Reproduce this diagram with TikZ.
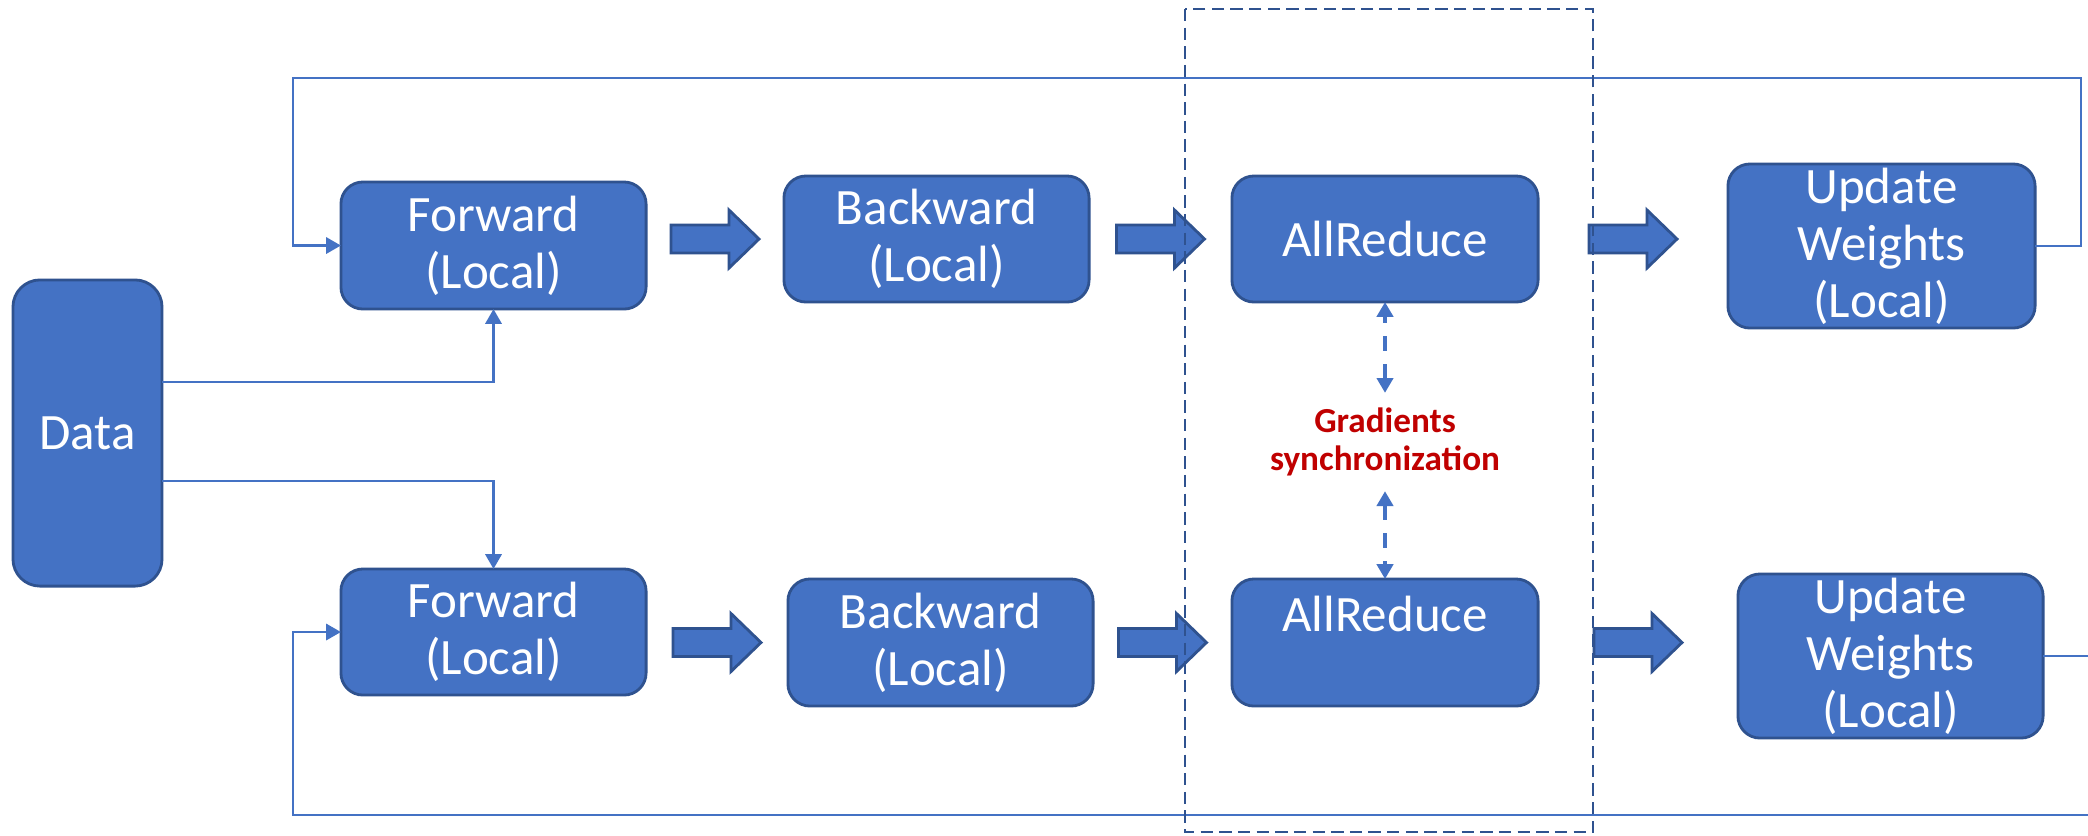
\documentclass[tikz,border=0pt]{standalone}
\usepackage{fontspec}
\setmainfont{Carlito}
\usetikzlibrary{arrows.meta,calc}
\definecolor{boxfill}{HTML}{4472C4}
\definecolor{boxdraw}{HTML}{2F528F}
\definecolor{linkblue}{HTML}{4472C4}
\definecolor{framedash}{HTML}{2F528F}
\definecolor{gradred}{HTML}{C00000}

\begin{document}
\begin{tikzpicture}[x=0.01cm,y=-0.01cm,
  box/.style={draw=boxdraw, fill=boxfill, line width=0.8pt,
    rounded corners=0.22cm, text=white, align=center,
    font=\fontsize{14.5}{16.2}\selectfont, inner sep=0pt, outer sep=0pt,
    minimum width=3.05cm, minimum height=1.27cm},
  tip/.style={-{Triangle[length=4.2pt,width=4.6pt]}},
  conn/.style={draw=linkblue, line width=0.75pt, tip},
  gdash/.style={draw=linkblue, line width=1pt, dash pattern=on 4.3pt off 3.7pt,
    {Triangle[length=4.2pt,width=4.6pt]}-{Triangle[length=4.2pt,width=4.6pt]}},
  frame/.style={draw=framedash, line width=0.8pt, dash pattern=on 3.5pt off 1.8pt},
  blockarrow/.pic={
    \filldraw[fill=boxfill, draw=boxdraw, line width=0.8pt, line join=miter]
      (-44,-14) -- (14,-14) -- (14,-29) -- (44,0) -- (14,29) -- (14,14)
      -- (-44,14) -- cycle;}
]
\clip (0,0) rectangle (2088,835);
\fill[white] (0,0) rectangle (2088,835);

% data source
\node[box, minimum width=1.49cm, minimum height=3.06cm, rounded corners=0.27cm]
  (dt) at (87.5,433) {Data};

% worker 1
\node[box] (fw1) at (493.5,245.5) {Forward\\(Local)};
\node[box, minimum height=1.26cm] (bw1) at (936.5,239) {Backward\\(Local)};
\node[box, minimum width=3.06cm, minimum height=1.26cm] (ar1) at (1385,239) {AllReduce};
\node[box, minimum width=3.07cm, minimum height=1.64cm] (ud1) at (1881.5,246) {Update\\Weights\\(Local)};

% worker 2
\node[box, minimum height=1.26cm] (fw2) at (493.5,632) {Forward\\(Local)};
\node[box] (bw2) at (940.5,642.5) {Backward\\(Local)};
\node[box, minimum width=3.06cm] (ar2) at (1385,642.5) {AllReduce\\\mbox{}};
\node[box, minimum height=1.64cm] (ud2) at (1890.5,656) {Update\\Weights\\(Local)};

% pipeline steps
\path (fw1.east |- ar1.center) -- (bw1.west |- ar1.center) coordinate[midway] (s11);
\path (bw1.east |- ar1.center) -- (ar1.west) coordinate[midway] (s12);
\path (ar1.east) -- (ud1.west |- ar1.center) coordinate[midway] (s13);
\path (fw2.east |- ar2.center) -- (bw2.west |- ar2.center) coordinate[midway] (s21);
\path (bw2.east |- ar2.center) -- (ar2.west) coordinate[midway] (s22);
\path (ar2.east) -- (ud2.west |- ar2.center) coordinate[midway] (s23);
\foreach \s in {s11,s12,s13,s21,s22,s23} \pic at (\s) {blockarrow};

% data feeds
\draw[conn] ([yshift=0.51cm]dt.east) -| (fw1.south);
\draw[conn] ([yshift=-0.48cm]dt.east) -| (fw2.north);

% weight feedback loops
\draw[conn] (ud1.east) -| (2081,78) -| ([xshift=-0.48cm]fw1.west) -- (fw1.west);
\draw[conn] (ud2.east) -| (2110,815) -| ([xshift=-0.48cm]fw2.west) -- (fw2.west);

% gradient synchronization
\node[font=\bfseries\fontsize{10}{11}\selectfont, text=gradred, align=center,
  inner sep=4pt] (gs) at (1385,442) {Gradients\\synchronization};
\draw[gdash] (gs) -- (ar1);
\draw[gdash] (gs) -- (ar2);

% synchronization stage
\draw[frame] (1185,9) rectangle (1593,832);
\end{tikzpicture}
\end{document}
